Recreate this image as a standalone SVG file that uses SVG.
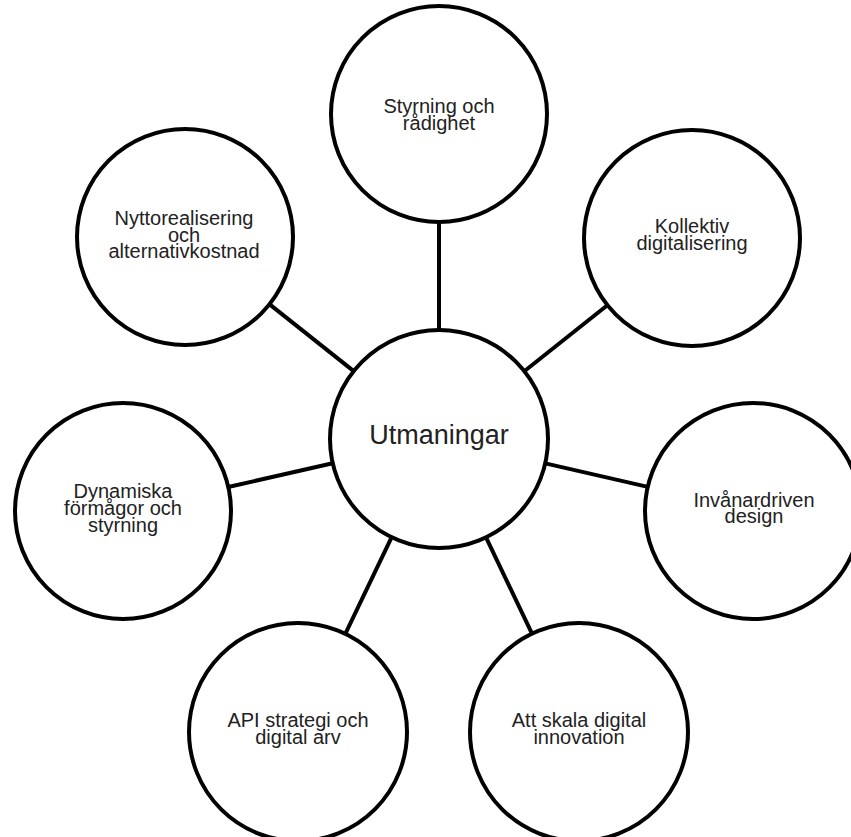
<svg xmlns="http://www.w3.org/2000/svg" width="851" height="837" viewBox="0 0 851 837">
<style>
.node{fill:#fff;stroke:#000;stroke-width:4}
.conn{stroke:#000;stroke-width:4;fill:none}
.lbl{font-family:"Liberation Sans",Arial,Helvetica,sans-serif;font-size:20px;fill:#222;text-anchor:middle}
.big{font-size:27px}
</style>
<rect width="851" height="837" fill="#fff"/>
<g id="connectors">
<line class="conn" x1="439" y1="330" x2="439" y2="223"/>
<line class="conn" x1="524.3" y1="371.2" x2="606.7" y2="305.8"/>
<line class="conn" x1="545.3" y1="463.4" x2="646.7" y2="486.6"/>
<line class="conn" x1="486" y1="537.4" x2="532" y2="633.6"/>
<line class="conn" x1="391.7" y1="537.2" x2="345.3" y2="633.8"/>
<line class="conn" x1="332.7" y1="463.2" x2="229.3" y2="486.8"/>
<line class="conn" x1="353.7" y1="371.1" x2="270.3" y2="304.9"/>
</g>
<g id="center">
<circle class="node" cx="439" cy="439" r="109"/>
<text class="lbl big" x="439" y="444">Utmaningar</text>
</g>
<g id="styrning">
<circle class="node" cx="439" cy="114" r="108"/>
<text class="lbl" x="439" y="113">Styrning och</text>
<text class="lbl" x="439" y="130">rådighet</text>
</g>
<g id="kollektiv">
<circle class="node" cx="692" cy="238" r="108"/>
<text class="lbl" x="692" y="233">Kollektiv</text>
<text class="lbl" x="692" y="250">digitalisering</text>
</g>
<g id="invanardriven">
<circle class="node" cx="753" cy="511" r="108"/>
<text class="lbl" x="754" y="507">Invånardriven</text>
<text class="lbl" x="754" y="523">design</text>
</g>
<g id="skala">
<circle class="node" cx="579" cy="732" r="109"/>
<text class="lbl" x="579" y="727">Att skala digital</text>
<text class="lbl" x="579" y="744">innovation</text>
</g>
<g id="api">
<circle class="node" cx="298" cy="732" r="109"/>
<text class="lbl" x="298" y="727">API strategi och</text>
<text class="lbl" x="298" y="744">digital arv</text>
</g>
<g id="dynamiska">
<circle class="node" cx="123" cy="511" r="108"/>
<text class="lbl" x="123" y="498">Dynamiska</text>
<text class="lbl" x="123" y="515">förmågor och</text>
<text class="lbl" x="123" y="532">styrning</text>
</g>
<g id="nytto">
<circle class="node" cx="185" cy="237" r="108"/>
<text class="lbl" x="184" y="225">Nyttorealisering</text>
<text class="lbl" x="184" y="242">och</text>
<text class="lbl" x="184" y="258">alternativkostnad</text>
</g>
</svg>
